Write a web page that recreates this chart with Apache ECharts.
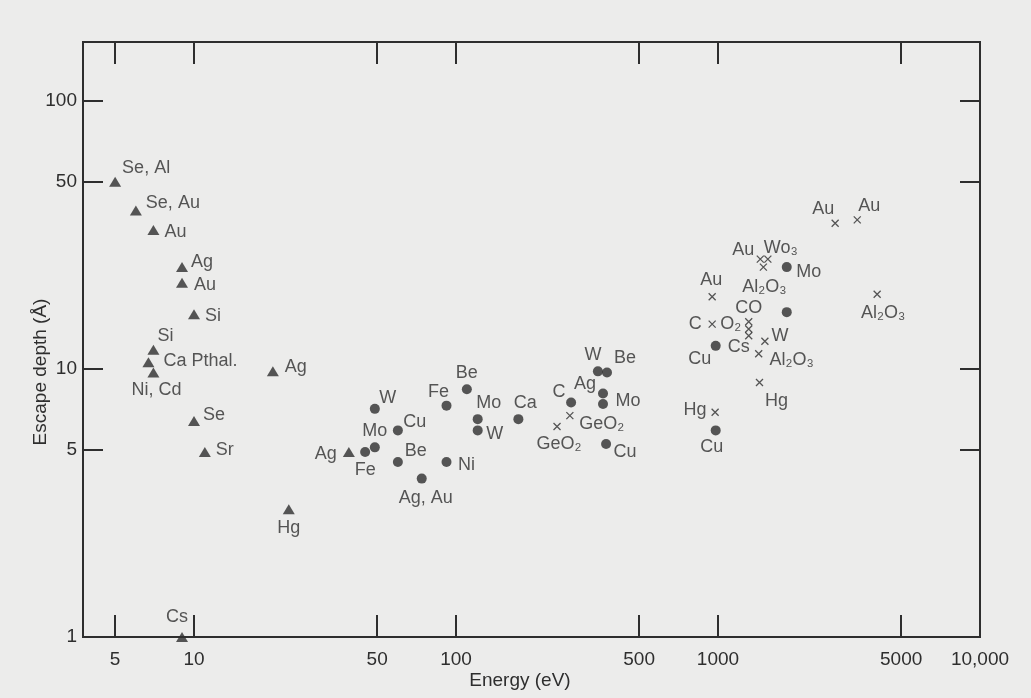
<!DOCTYPE html>
<html>
<head>
<meta charset="utf-8">
<title>Escape depth vs energy</title>
<script src="https://cdn.jsdelivr.net/npm/echarts@6/dist/echarts.min.js"></script>
<style>
  html, body { margin: 0; padding: 0; background: #ececeb; }
  #chart { width: 1031px; height: 698px; }
</style>
</head>
<body>
<div id="chart"></div>
<script>
// values: energy (eV), escape depth (Å)
const triNames  = ['Se, Al', 'Se, Au', 'Au', 'Ag', 'Au', 'Si', 'Si', 'Ca Pthal.', 'Ni, Cd', 'Ag', 'Se', 'Sr', 'Hg', 'Cs', 'Ag'];
const triEnergy = [5, 6, 7, 9, 9, 10, 7, 6.7, 7, 20, 10, 11, 23, 9, 39];
const triDepth  = [50, 39, 33, 24, 21, 16, 11.8, 10.6, 9.7, 9.8, 6.4, 4.9, 3.0, 1, 4.9];

const dotNames  = ['W', 'Fe', 'Mo', 'Cu', 'Be', 'Ag, Au', 'Fe', 'Be', 'Ni', 'Mo', 'W', 'Ca', 'C', 'W', 'Be', 'Ag', 'Mo', 'Cu', 'Cu', 'Cu', 'Mo', ''];
const dotEnergy = [49, 45, 49, 60, 60, 74, 92, 110, 92, 121, 121, 173, 275, 348, 377, 364, 364, 374, 980, 980, 1830, 1830];
const dotDepth  = [7.1, 4.9, 5.1, 5.9, 4.5, 3.9, 7.3, 8.4, 4.5, 6.5, 5.9, 6.5, 7.5, 9.8, 9.7, 8.1, 7.4, 5.25, 12.2, 5.9, 24, 16.3];

const crossNames  = ['GeO₂', 'GeO₂', 'Hg', 'Au', 'Au', 'Au', 'Wo₃', 'Al₂O₃', 'Au', 'C', 'CO', 'O₂', 'Cs', 'W', 'Al₂O₃', 'Hg', 'Al₂O₃'];
const crossEnergy = [272, 243, 975, 2800, 3400, 1450, 1550, 1490, 950, 950, 1310, 1310, 1310, 1510, 1430, 1440, 4050];
const crossDepth  = [6.7, 6.1, 6.9, 35, 36, 25.7, 25.7, 24, 18.6, 14.7, 15, 14.1, 13.3, 12.7, 11.4, 8.9, 19];

const xTicks = [5, 10, 50, 100, 500, 1000, 5000, 10000];
const xTickText = ['5', '10', '50', '100', '500', '1000', '5000', '10,000'];
const yTicks = [1, 5, 10, 50, 100];
const yTickText = ['1', '5', '10', '50', '100'];

// label placement (text centre minus marker centre, px)
const triLabelAt = [[31, -14], [37, -8], [22, 2], [20, -5], [23, 2], [19, 2], [12, -14], [52, -1], [3, 17], [23, -4], [20, -6], [20, -2], [0, 19], [-5, -20], [-23, 2]];
const dotLabelAt = [[13, -11], [0, 18], [0, -16], [17, -8], [18, -11], [4, 19], [-8, -14], [0, -16], [20, 3], [11, -16], [17, 4], [7, -16], [-12, -10], [-5, -16], [18, -15], [-18, -9], [25, -3], [19, 8], [-16, 13], [-4, 17], [22, 5], [0, 0]];
const crossLabelAt = [[32, 8], [2, 18], [-20, -2], [-12, -14], [12, -14], [-17, -9], [13, -11], [1, 20], [-1, -17], [-17, 0], [0, -14], [-18, -5], [-10, 11], [15, -5], [33, 6], [17, 18], [6, 19]];

const X_MIN = 3.77, X_MAX = 10000;
const Y_MIN = 1, Y_MAX = 166;

const ink = '#2e2e2e';
const font = '"Liberation Sans", Arial, Helvetica, sans-serif';
const lg = Math.log10;

function points(names, xs, ys, offsets) {
  return names.map((n, i) => ({
    name: n,
    value: [xs[i], ys[i]],
    label: { offset: offsets[i] }
  }));
}

function tickText(ticks, texts) {
  return (v) => {
    const i = ticks.findIndex((t) => Math.abs(lg(t) - v) < 1e-6);
    return i < 0 ? '' : texts[i];
  };
}

const tickStyle = { inside: true, length: 22, lineStyle: { color: ink, width: 2 } };
const labelStyle = {
  show: true,
  position: 'inside',
  formatter: '{b}',
  color: ink,
  fontSize: 18,
  fontFamily: font,
  align: 'center',
  verticalAlign: 'middle'
};

const chart = echarts.init(document.getElementById('chart'), null, { renderer: 'canvas' });

chart.setOption({
  backgroundColor: '#ececeb',
  animation: false,
  grid: {
    left: 83, right: 51, top: 42, bottom: 61,
    show: true, borderColor: ink, borderWidth: 2,
    outerBoundsMode: 'none'
  },
  xAxis: [
    // data axis (log), labels and ticks come from the overlay axes
    { type: 'log', min: X_MIN, max: X_MAX, axisLine: { show: false }, axisTick: { show: false }, axisLabel: { show: false }, splitLine: { show: false } },
    {
      type: 'value', position: 'bottom', min: lg(X_MIN), max: lg(X_MAX),
      axisLine: { show: false }, splitLine: { show: false },
      axisTick: Object.assign({ customValues: xTicks.slice(0, -1).map(lg) }, tickStyle),
      axisLabel: { customValues: xTicks.map(lg), formatter: tickText(xTicks, xTickText), color: ink, fontSize: 19, fontFamily: font, margin: 13 }
    },
    {
      type: 'value', position: 'top', min: lg(X_MIN), max: lg(X_MAX),
      axisLine: { show: false }, splitLine: { show: false },
      axisTick: Object.assign({ customValues: xTicks.slice(0, -1).map(lg) }, tickStyle),
      axisLabel: { show: false }
    }
  ],
  yAxis: [
    { type: 'log', min: Y_MIN, max: Y_MAX, axisLine: { show: false }, axisTick: { show: false }, axisLabel: { show: false }, splitLine: { show: false } },
    {
      type: 'value', position: 'left', min: lg(Y_MIN), max: lg(Y_MAX),
      axisLine: { show: false }, splitLine: { show: false },
      axisTick: Object.assign({ customValues: yTicks.slice(1).map(lg) }, tickStyle, { length: 20 }),
      axisLabel: { customValues: yTicks.map(lg), formatter: tickText(yTicks, yTickText), color: ink, fontSize: 19, fontFamily: font, margin: 6 }
    },
    {
      type: 'value', position: 'right', min: lg(Y_MIN), max: lg(Y_MAX),
      axisLine: { show: false }, splitLine: { show: false },
      axisTick: Object.assign({ customValues: yTicks.slice(1).map(lg) }, tickStyle, { length: 20 }),
      axisLabel: { show: false }
    }
  ],
  graphic: [
    {
      type: 'text', x: 520, y: 681,
      style: { text: 'Energy (eV)', fill: ink, font: '19px ' + font, align: 'center', verticalAlign: 'middle', textAlign: 'center', textVerticalAlign: 'middle' }
    },
    {
      type: 'text', x: 41, y: 372, rotation: Math.PI / 2,
      style: { text: 'Escape depth (Å)', fill: ink, font: '19px ' + font, align: 'center', verticalAlign: 'middle', textAlign: 'center', textVerticalAlign: 'middle' }
    }
  ],
  series: [
    {
      type: 'scatter', name: 'triangle', xAxisIndex: 0, yAxisIndex: 0,
      symbol: 'triangle', symbolSize: [12, 10],
      itemStyle: { color: ink },
      label: labelStyle,
      data: points(triNames, triEnergy, triDepth, triLabelAt)
    },
    {
      type: 'scatter', name: 'circle', xAxisIndex: 0, yAxisIndex: 0,
      symbol: 'circle', symbolSize: 10,
      itemStyle: { color: ink },
      label: labelStyle,
      data: points(dotNames, dotEnergy, dotDepth, dotLabelAt)
    },
    {
      type: 'scatter', name: 'cross', xAxisIndex: 0, yAxisIndex: 0,
      symbol: 'path://M0 0L10 10M10 0L0 10', symbolSize: 7,
      itemStyle: { color: 'none', borderColor: ink, borderWidth: 1.3 },
      label: labelStyle,
      data: points(crossNames, crossEnergy, crossDepth, crossLabelAt)
    }
  ]
});
</script>
</body>
</html>
